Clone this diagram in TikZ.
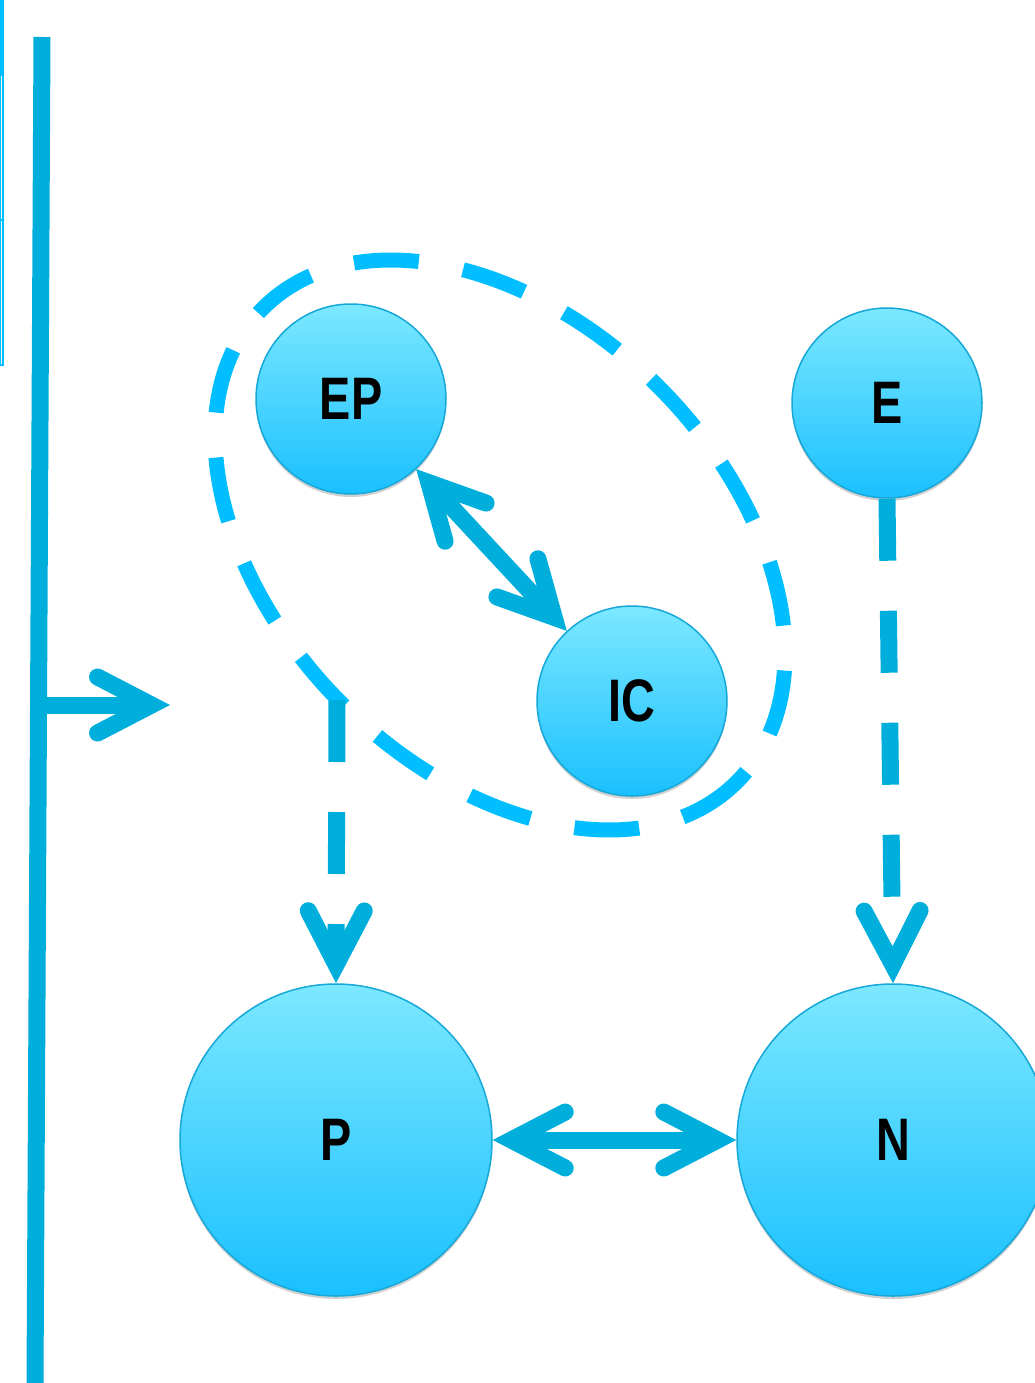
\documentclass[tikz,border=0pt]{standalone}
\usepackage{fontspec}
\usepackage{graphicx}
\usetikzlibrary{arrows.meta,shadows}
\newfontfamily\labfont{Liberation Sans}
\definecolor{arrowblue}{RGB}{0,174,219}
\definecolor{ringblue}{RGB}{0,190,255}
\definecolor{toplight}{RGB}{124,232,255}
\definecolor{botdeep}{RGB}{26,192,255}
\definecolor{rimblue}{RGB}{22,168,216}
\tikzset{
  bub/.style={circle, inner sep=0pt, draw=rimblue, line width=1.5pt,
    top color=toplight, bottom color=botdeep,
    drop shadow={shadow xshift=0pt, shadow yshift=-3pt, fill=black, opacity=0.18},
    font=\labfont\bfseries\fontsize{60}{62}\selectfont},
  small/.style={minimum size=190pt},
  big/.style={minimum size=312pt},
  tip/.tip={Straight Barb[length=54pt, width=56pt, line width=17pt, line cap=round, line join=miter]},
  conn/.style={draw=arrowblue, line width=17pt},
  dashconn/.style={conn, dash pattern=on 62pt off 50pt},
  ring/.style={draw=ringblue, line width=15pt, dash pattern=on 65pt off 45pt}
}
\newcommand{\lbl}[1]{\scalebox{0.78}[1]{#1}}
\begin{document}
\begin{tikzpicture}[x=1pt,y=-1pt]
\useasboundingbox (0,0) rectangle (1035,1383);
\clip (0,0) rectangle (1035,1383);
% left edge fragments
\fill[ringblue] (0,0) rectangle (3.5,75);
\draw[ringblue, line width=1.2pt] (0,75) rectangle (3,220);
\draw[ringblue, line width=1.2pt] (0,220) rectangle (3,365);
% main vertical line
\coordinate (ltop) at (42,37);
\coordinate (lbot) at (35,1383);
\coordinate (lmid) at (40,705);
\coordinate (lend) at (170,705);
\draw[arrowblue, line width=17pt] (ltop) -- (lbot);
\draw[conn, -tip] (lmid) -- (lend);
% group ellipse
\draw[ring, rotate around={-45:(500,545)}] (500,545) ellipse [x radius=335, y radius=224];
% nodes
\node[bub, small] (EP) at (351,399) {\lbl{EP}};
\node[bub, small] (E) at (887,403) {\lbl{E}};
\node[bub, small] (IC) at (632,701) {\lbl{IC}};
\node[bub, big] (P) at (336,1140) {\lbl{P}};
\node[bub, big] (N) at (893,1140) {\lbl{N}};
\coordinate (grp) at (337,700);
% connectors
\draw[conn, tip-tip] (EP) -- (IC);
\draw[conn, tip-tip] (P) -- (N);
\draw[dashconn, -tip] (grp) -- (P.north);
\draw[dashconn, -tip] (E.south) -- (N.north);
\end{tikzpicture}
\end{document}
